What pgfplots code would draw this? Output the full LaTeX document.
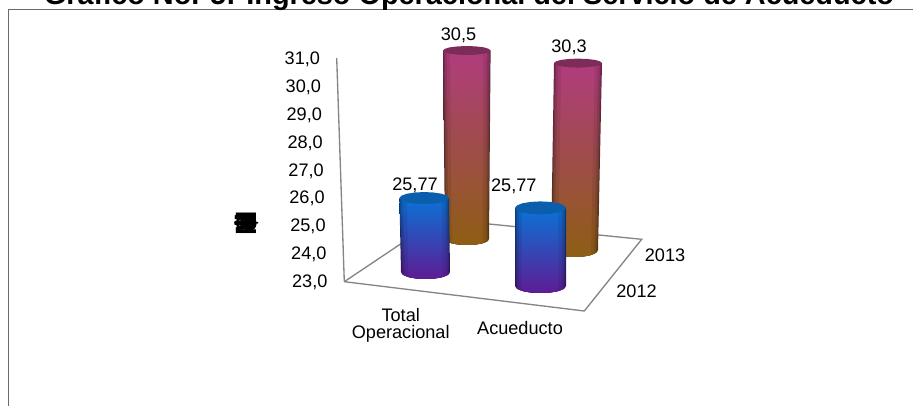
\documentclass[border=0pt]{standalone}
\usepackage{fontspec}
\setmainfont{Liberation Sans}
\usepackage{pgfplots}
\usepackage{pgfplotstable}
\pgfplotsset{compat=1.18}

\definecolor{edgegray}{HTML}{858585}
\definecolor{framegray}{HTML}{6A6A6A}
\definecolor{redtop}{HTML}{B03C7E}
\definecolor{redmid}{HTML}{92485C}
\definecolor{redbot}{HTML}{8E5E14}
\definecolor{redcap}{HTML}{7C2C58}
\definecolor{bluetop}{HTML}{0A72D6}
\definecolor{bluemid}{HTML}{3C5ABA}
\definecolor{bluebot}{HTML}{5E1C94}
\definecolor{bluecap}{HTML}{0A5EAC}

% picture positions are in reference pixels; this turns a pixel row into the value axis
\newcommand{\pyv}[1]{(23+(282.7-(#1))/27.96)}

% outline of a cylinder body: t=1 top rim, t=0 bottom arc
\pgfplotstableread{
u t
-1 1
-1 0
-0.92 0
-0.71 0
-0.38 0
0 0
0.38 0
0.71 0
0.92 0
1 0
1 1
}\cylbody
\pgfplotstableread{
u s
1 0
0.92 0.38
0.71 0.71
0.38 0.92
0 1
-0.38 0.92
-0.71 0.71
-0.92 0.38
-1 0
-0.92 -0.38
-0.71 -0.71
-0.38 -0.92
0 -1
0.38 -0.92
0.71 -0.71
0.92 -0.38
}\cylcap

% floor and back axis, pixel coordinates
\pgfplotstableread{
x py
344.3 281.7
584.3 311
641.7 239.3
438 218.9
344.3 281.7
}\floortab
\pgfplotstableread{
x py
336.7 58
344.3 281.7
}\zaxistab
\pgfplotstableread{
x py
8.3 406
8.3 9.5
913 9.5
}\frametab

% labels
\pgfplotstableread{
x py label
458.5 35 30,5
569 47.7 30,3
415 185.7 25,77
513.8 186.7 25,77
665 255.7 2013
636.5 291.7 2012
520 328 Acueducto
400.7 315 Total
400.7 334 Operacional
}\labeltab

% #1 base row, #2 px per unit, #3 value: row of the top rim
\newcommand{\settop}[3]{\pgfmathsetmacro{\toprow}{#1-#2*(#3-23)}}
% one shell of the body: #1 width factor, #2 percent of colour against black, #3 colour prefix
\newcommand{\shell}[3]{%
  \addplot[draw=none, top color=#3top!#2!black, middle color=#3mid!#2!black, bottom color=#3bot!#2!black]
    table[x expr={\thisrow{t}*(\cxt+#1*\rxt*\thisrow{u})+(1-\thisrow{t})*(\cxb+#1*\rxb*\thisrow{u})},
          y expr={23+(282.7-(\thisrow{t}*\toprow+(1-\thisrow{t})*(\baser+\ryb*sqrt(max(0,1-(#1*\thisrow{u})^2)))))/27.96}]
    {\cylbody} -- cycle;
}
% #1 cx top, #2 rx top, #3 cx bottom, #4 rx bottom, #5 base row, #6 ry top, #7 ry bottom, #8 colour prefix
\newcommand{\cyl}[8]{%
  \def\cxt{#1}\def\rxt{#2}\def\cxb{#3}\def\rxb{#4}\def\baser{#5}\def\ryb{#7}%
  \shell{1}{55}{#8}\shell{0.97}{70}{#8}\shell{0.92}{82}{#8}\shell{0.84}{92}{#8}\shell{0.7}{100}{#8}%
  \addplot[draw=none, fill=#8cap]
    table[x expr={#1+#2*\thisrow{u}},
          y expr={23+(282.7-(\toprow+#6*\thisrow{s}))/27.96}] {\cylcap} -- cycle;
}

\begin{document}
\begin{tikzpicture}
\begin{axis}[
    scale only axis,
    width=684.75pt,
    height=304.5pt,
    xmin=0, xmax=913,
    ymin=18.590, ymax=33.111,
    clip=false,
    axis line style={draw=none},
    xtick=\empty,
    ytick={23,24,...,31},
    major tick length=0pt,
    tick style={draw=none},
    /pgf/number format/.cd, fixed, fixed zerofill, precision=1, use comma, assume math mode=true,
    /pgfplots/.cd,
    yticklabel style={font=\fontsize{13.6pt}{15pt}\selectfont, anchor=east, inner sep=0pt,
        xshift={(327.7-0.925*\ticknum)*0.75pt}},
    every axis plot/.append style={forget plot},
]

\addplot[framegray, line width=1pt] table[x=x, y expr={\pyv{\thisrow{py}}}] {\frametab};
\addplot[edgegray, line width=1pt] table[x=x, y expr={\pyv{\thisrow{py}}}] {\floortab};
\addplot[edgegray, line width=1pt] table[x=x, y expr={\pyv{\thisrow{py}}}] {\zaxistab};

% 2013 row behind
\settop{239}{25.13}{30.5}
\cyl{466.8}{23.8}{467}{22}{239}{4.5}{6}{red}
\settop{250}{25.6}{30.3}
\cyl{578}{24}{574.5}{23.5}{250}{4.5}{7}{red}
% 2012 row in front
\settop{272}{26.7}{25.77}
\cyl{424.2}{24.8}{425.5}{24.5}{272}{6}{7}{blue}
\settop{286}{28.2}{25.77}
\cyl{540.5}{25.5}{540.5}{25.5}{286}{6.5}{7}{blue}

\addplot[only marks, mark=none, point meta=explicit symbolic, nodes near coords,
    every node near coord/.append style={anchor=center, inner sep=0pt, font=\fontsize{13.6pt}{15pt}\selectfont}]
    table[x=x, y expr={\pyv{\thisrow{py}}}, meta=label] {\labeltab};

\node[anchor=base] at (axis cs:469,{\pyv{5}}) {\resizebox{637.5pt}{!}{\bfseries Gráfico No. 5: Ingreso Operacional del Servicio de Acueducto}};

% the axis title of the reference is a stack of overprinted letters
\node[rotate=90, font=\bfseries\fontsize{22pt}{22pt}\selectfont] at (axis cs:247,{\pyv{223}})
    {\makebox[0pt]{M}\makebox[0pt]{i}\makebox[0pt]{l}\makebox[0pt]{e}\makebox[0pt]{s}\makebox[0pt]{d}\makebox[0pt]{\$}};
\end{axis}
\pgfresetboundingbox
\path[use as bounding box] (0,0) rectangle (684.75pt,304.5pt);
\end{tikzpicture}
\end{document}
